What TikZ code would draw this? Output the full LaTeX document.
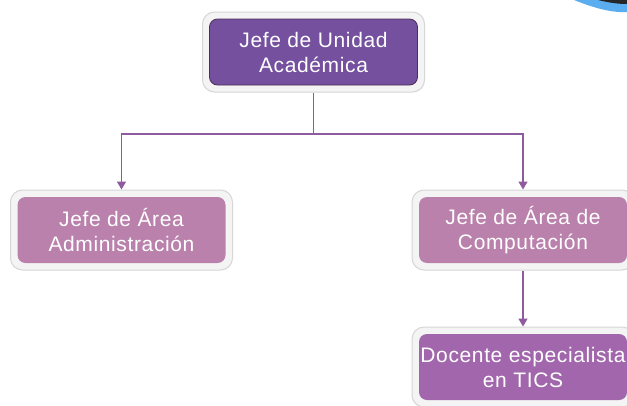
\documentclass[tikz,border=0pt]{standalone}
\usepackage{fontspec}
\setmainfont{Liberation Sans}[LetterSpace=3]
\usetikzlibrary{arrows.meta}
\definecolor{topc}{HTML}{74509E}
\definecolor{topborder}{HTML}{4E2E55}
\definecolor{midc}{HTML}{B981AB}
\definecolor{botc}{HTML}{A166AB}
\definecolor{framefill}{HTML}{F4F4F4}
\definecolor{frameline}{HTML}{D6D6D6}
\definecolor{connc}{HTML}{8E5C9E}
\definecolor{swooshc}{HTML}{5AAEF0}
\tikzset{
  frame/.style={draw=frameline, fill=framefill, line width=1pt, rounded corners=12pt,
    minimum width=222pt, minimum height=80pt, inner sep=0pt},
  box/.style={rounded corners=8pt, minimum width=208pt, minimum height=66pt, inner sep=0pt,
    align=center, text=white, font=\fontsize{21}{25}\selectfont},
  conn/.style={draw=connc, line width=1.5pt},
  arr/.style={conn, -{Triangle[width=9pt,length=8pt]}}
}
\begin{document}
\begin{tikzpicture}[x=1pt,y=-1pt]
\useasboundingbox (0,0) rectangle (627,405);
\clip (0,0) rectangle (627,405);
\fill[white] (0,0) rectangle (627,405);
% swoosh at top right
\fill[swooshc] (574,0) .. controls (594,8) and (612,13) .. (627,12) -- (627,0) -- cycle;
\fill[black!85] (598,0) .. controls (610,3) and (619,4) .. (627,4) -- (627,0) -- cycle;
% frames
\node[frame] (topf) at (313.5,52) {};
\node[frame] (leftf) at (121.5,230) {};
\node[frame] (rightf) at (523,230) {};
\node[frame] (botf) at (523,367) {};
% boxes
\node[box, fill=topc, draw=topborder, line width=0.8pt] (top) at (313.5,52) {Jefe de Unidad\\Académica};
\node[box, fill=midc] (left) at (121.5,230) {Jefe de Área\\Administración};
\node[box, fill=midc] (right) at (523,230) {Jefe de Área de\\Computación};
\node[box, fill=botc] (bot) at (523,367) {Docente especialista\\en TICS};
% connectors
\coordinate (split) at (313.5,134);
\draw[conn] (topf.south) -- (split);
\draw[arr] (split) -| (leftf.north);
\draw[arr] (split) -| (rightf.north);
\draw[arr] (rightf.south) -- (botf.north);
\end{tikzpicture}
\end{document}
